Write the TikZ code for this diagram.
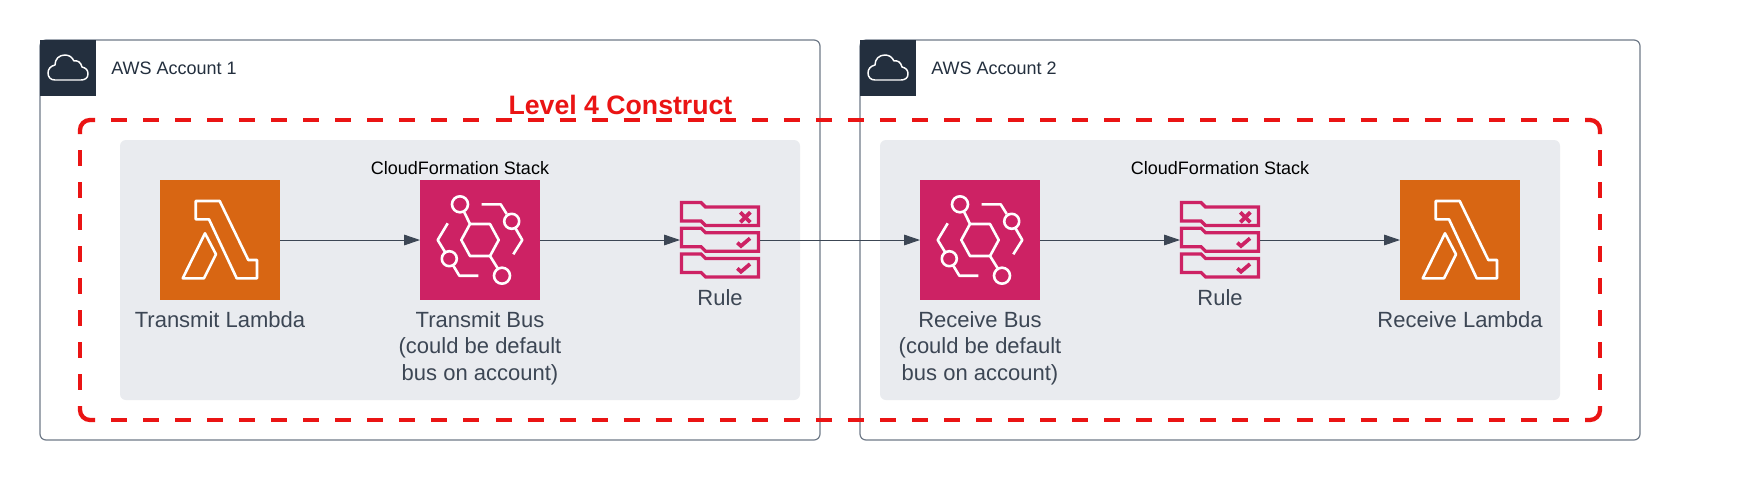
\documentclass[tikz,border=0pt]{standalone}
\usepackage{xcolor}
\usepackage{fontspec}
\setmainfont{Liberation Sans}
\usetikzlibrary{arrows.meta}

\definecolor{awsorange}{HTML}{D86613}
\definecolor{awspink}{HTML}{CD2264}
\definecolor{awsnavy}{HTML}{232F3E}
\definecolor{acctline}{HTML}{6F7A88}
\definecolor{panelgray}{HTML}{E9EBEF}
\definecolor{labelgray}{HTML}{3C4654}
\definecolor{levelred}{HTML}{EA1414}

\tikzset{
  acctbox/.style={draw=acctline,fill=white,line width=0.9pt,rounded corners=4.5pt,minimum width=585pt,minimum height=300pt,inner sep=0pt,outer sep=0pt},
  panelbox/.style={fill=panelgray,rounded corners=4.5pt,minimum width=510pt,minimum height=195pt,inner sep=0pt,outer sep=0pt},
  acctbadge/.style={fill=awsnavy,minimum size=42pt,inner sep=0pt,outer sep=0pt},
  lambdabox/.style={fill=awsorange,minimum size=90pt,inner sep=0pt,outer sep=0pt},
  busbox/.style={fill=awspink,minimum size=90pt,inner sep=0pt,outer sep=0pt},
  rulebox/.style={minimum width=60pt,minimum height=58.5pt,inner sep=0pt,outer sep=0pt},
  glyphline/.style={draw=white,line width=1.95pt,line join=round},
  ruleline/.style={draw=awspink,line width=2.4pt,line join=miter},
  rulemark/.style={draw=awspink,line width=2.8pt},
  flowarrow/.style={draw=labelgray,line width=0.7pt,-{Triangle[length=12pt,width=8pt]}},
  reddash/.style={draw=levelred,line width=3.2pt,dash pattern=on 12.015pt off 12.015pt,dash phase=12.015pt},
  redcorner/.style={draw=levelred,line width=3.2pt},
  iconlabel/.style={anchor=north,inner sep=0pt,align=center,text=labelgray,font=\fontsize{16.5}{20}\selectfont},
  stacklabel/.style={anchor=base,inner sep=0pt,text=black,font=\fontsize{13.5}{16}\selectfont},
  acctlabel/.style={anchor=base west,inner sep=0pt,text=awsnavy,font=\fontsize{13.5}{16}\selectfont},
  levellabel/.style={anchor=base,inner sep=0pt,text=levelred,font=\fontsize{20}{24}\bfseries\selectfont},
  every pic/.style={yscale=-1},
  cloudglyph/.pic={
    \draw[draw=white,line width=1.1pt,line join=round] (-13,12) .. controls (-17.5,12) and (-20,9) .. (-20,5) .. controls (-20,1) and (-17.5,-2) .. (-13,-3) .. controls (-13,-9) and (-9,-13) .. (-3,-13) .. controls (1,-13) and (4,-11) .. (6,-7) .. controls (9,-8) and (13,-6) .. (14,-1) .. controls (18,0) and (20,2) .. (20,6) .. controls (20,10) and (17,12) .. (13,12) -- cycle ;
  },
  lambdaglyph/.pic={
    \draw[glyphline] (35.7,21) -- (59.7,21) -- (88.3,80) -- (97,80) -- (97,98.3) -- (76.7,98.3) -- (49,39.3) -- (35.7,39.3) -- cycle ;
    \draw[glyphline] (45,53.3) -- (56,74.3) -- (44,98.3) -- (22.7,98.3) -- cycle ;
  },
  busglyph/.pic={
    \draw[glyphline] (50,44) -- (70,44) -- (78.7,60) -- (70,76) -- (50,76) -- (41.3,60) -- cycle ;
    \draw[glyphline] (40,24.3) circle (8) ;
    \draw[glyphline] (91.7,41.3) circle (7.5) ;
    \draw[glyphline] (29.3,78.7) circle (7.5) ;
    \draw[glyphline] (82,95.7) circle (8) ;
    \draw[glyphline] (44.3,32.3) -- (50,44) ;
    \draw[glyphline] (70,76) -- (77.7,88.3) ;
    \draw[glyphline] (61.7,24.3) -- (80.7,24.3) -- (86.7,34) ;
    \draw[glyphline] (95.3,48) -- (102.3,60) -- (93.3,74.3) ;
    \draw[glyphline] (27.7,43.3) -- (17.7,60) -- (25,72) ;
    \draw[glyphline] (33.5,86) -- (39.3,95.7) -- (58.3,95.7) ;
  },
  ruleglyph/.pic={
    \draw[ruleline] (1.5,1.5) -- (21,1.5) -- (25.5,6) -- (78.5,6) -- (78.5,24.5) -- (25.5,24.5) -- (21,20) -- (1.5,20) -- cycle ;
    \draw[ruleline] (1.5,27.2) -- (21,27.2) -- (25.5,31.7) -- (78.5,31.7) -- (78.5,50.2) -- (25.5,50.2) -- (21,45.7) -- (1.5,45.7) -- cycle ;
    \draw[ruleline] (1.5,52.9) -- (21,52.9) -- (25.5,57.4) -- (78.5,57.4) -- (78.5,75.9) -- (25.5,75.9) -- (21,71.4) -- (1.5,71.4) -- cycle ;
    \draw[rulemark] (60.3,11.3) -- (70.3,21.3) ;
    \draw[rulemark] (70.3,11.3) -- (60.3,21.3) ;
    \draw[rulemark] (57.3,41.7) -- (61,45) -- (70,37.3) ;
    \draw[rulemark] (57.3,67.4) -- (61,70.7) -- (70,63) ;
  },
}

\begin{document}
\begin{tikzpicture}[x=0.75pt,y=0.75pt,yscale=-1,xscale=1]
\useasboundingbox (0,0) rectangle (1751,480);

%Shape: accounts
\node[acctbox] (acct1) at (430,240) {};
\node[acctbox] (acct2) at (1250,240) {};
\node[acctbadge] (badge1) at (68,68) {};
\node[acctbadge] (badge2) at (888,68) {};
\pic at (badge1.center) {cloudglyph};
\pic at (badge2.center) {cloudglyph};

%Shape: stacks
\node[panelbox] (panel1) at (460,270) {};
\node[panelbox] (panel2) at (1220,270) {};

%Shape: level 4 outline
\draw[reddash] (95,120) -- (1585,120) ;
\draw[reddash] (95,420) -- (1585,420) ;
\draw[reddash] (80,134) -- (80,406) ;
\draw[reddash] (1600,134) -- (1600,406) ;
\draw[redcorner] (95,120) -- (90,120) arc[start angle=270,end angle=180,radius=10] -- (80,134) ;
\draw[redcorner] (1585,120) -- (1590,120) arc[start angle=270,end angle=360,radius=10] -- (1600,134) ;
\draw[redcorner] (95,420) -- (90,420) arc[start angle=90,end angle=180,radius=10] -- (80,406) ;
\draw[redcorner] (1585,420) -- (1590,420) arc[start angle=90,end angle=0,radius=10] -- (1600,406) ;

%Shape: services
\node[lambdabox] (lambda1) at (220,240) {};
\node[busbox] (bus1) at (480,240) {};
\node[rulebox] (rule1) at (720,240) {};
\node[busbox] (bus2) at (980,240) {};
\node[rulebox] (rule2) at (1220,240) {};
\node[lambdabox] (lambda2) at (1460,240) {};
\pic at (lambda1.north west) {lambdaglyph};
\pic at (bus1.north west) {busglyph};
\pic at (rule1.north west) {ruleglyph};
\pic at (bus2.north west) {busglyph};
\pic at (rule2.north west) {ruleglyph};
\pic at (lambda2.north west) {lambdaglyph};

%Straight Lines
\draw[flowarrow] (lambda1) -- (bus1) ;
\draw[flowarrow] (bus1) -- (rule1) ;
\draw[flowarrow] (rule1) -- (bus2) ;
\draw[flowarrow] (bus2) -- (rule2) ;
\draw[flowarrow] (rule2) -- (lambda2) ;

% Text Node
\node[acctlabel] (acct1text) at (111,74.5) {AWS Account 1};
% Text Node
\node[acctlabel] (acct2text) at (931,74.5) {AWS Account 2};
% Text Node
\node[levellabel] (leveltext) at (620.5,114) {Level 4 Construct};
% Text Node
\node[stacklabel] (stack1text) at (460,174) {CloudFormation Stack};
% Text Node
\node[stacklabel] (stack2text) at (1220,174) {CloudFormation Stack};
% Text Node
\node[iconlabel] (lambda1text) at (220,311) {Transmit Lambda};
% Text Node
\node[iconlabel] (bus1text) at (480,311) {Transmit Bus\\(could be default\\bus on account)};
% Text Node
\node[iconlabel] (rule1text) at (720,289) {Rule};
% Text Node
\node[iconlabel] (bus2text) at (980,311) {Receive Bus\\(could be default\\bus on account)};
% Text Node
\node[iconlabel] (rule2text) at (1220,289) {Rule};
% Text Node
\node[iconlabel] (lambda2text) at (1460,311) {Receive Lambda};
\end{tikzpicture}
\end{document}
